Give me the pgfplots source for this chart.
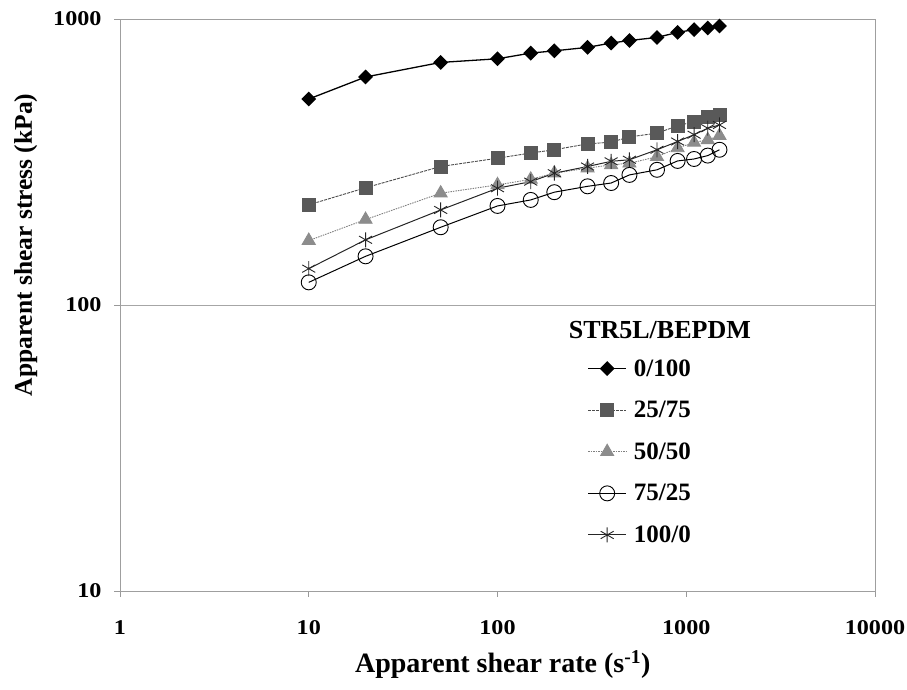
\documentclass[border=0pt]{standalone}
\usepackage{pgfplots}
\pgfplotsset{compat=1.18}
\usepackage{fontspec}
\setmainfont{Liberation Serif}
\newfontfamily\tickfont[FakeStretch=1.15]{Liberation Serif}
\begin{document}
\begin{tikzpicture}[x=1pt,y=1pt]
\path[use as bounding box] (0,0) rectangle (907,689);
\begin{axis}[
  at={(120pt,98pt)}, anchor=south west,
  scale only axis, width=755pt, height=572pt,
  xmode=log, ymode=log,
  xmin=1, xmax=10000, ymin=10, ymax=1000,
  xtick={1,10,100,1000,10000},
  xticklabels={1,10,100,1000,10000},
  ytick={10,100,1000},
  yticklabels={10,100,1000},
  xminorticks=false, yminorticks=false,
  xtick pos=bottom, ytick pos=left,
  tick align=outside, major tick length=6pt,
  tick style={gray!80, line width=0.6pt},
  axis line style={gray!75, line width=0.8pt},
  ymajorgrids, grid style={gray!70, line width=0.8pt},
  /pgf/number format/assume math mode=true,
  tick label style={font=\tickfont\fontsize{21}{24}\selectfont\bfseries},
  xticklabel style={yshift=-20pt},
  yticklabel style={xshift=-9pt},
  xlabel={Apparent shear rate (s\textsuperscript{-1})},
  ylabel={Apparent shear stress (kPa)},
  xlabel style={font=\fontsize{28}{32}\selectfont\bfseries, at={(axis description cs:0.507,-0.129)}, anchor=center},
  ylabel style={font=\fontsize{25.5}{30}\selectfont\bfseries, at={(axis description cs:-0.125,0.605)}, anchor=center},
  clip=false,
  legend style={draw=none, fill=none, at={(rel axis cs:0.615,0.412)}, anchor=north west,
    font=\fontsize{25}{28}\selectfont\bfseries, row sep=19.5pt,
    /tikz/every odd column/.append style={column sep=5pt}},
  legend cell align=left,
  legend image code/.code={\draw[mark repeat=2,mark phase=2,#1] plot coordinates {(0pt,0pt) (19pt,0pt) (38pt,0pt)};},
]
\addplot[black, line width=1.3pt, mark=square*, mark size=4.6pt, mark options={rotate=45, solid, fill=black}]
coordinates {(10,525) (20,627) (50,705) (100,726) (150,760) (200,774) (300,796) (400,824) (500,841) (700,862) (900,898) (1100,918) (1300,930) (1500,945)};
\addlegendentry{0/100}
\addplot[black!70, line width=0.9pt, dash pattern=on 3pt off 1pt, mark=square*, mark size=6.5pt, mark options={solid, fill=black!65, draw=black!65}]
coordinates {(10,224) (20,257) (50,305) (100,326) (150,340) (200,349) (300,366) (400,371) (500,387) (700,399) (900,423) (1100,438) (1300,456) (1500,462)};
\addlegendentry{25/75}
\addplot[black!50, line width=0.9pt, dash pattern=on 1.5pt off 1pt, mark=triangle*, mark size=7.5pt, mark options={solid, fill=black!45, draw=black!45}]
coordinates {(10,168) (20,199) (50,246) (100,263) (150,275) (200,289) (300,301) (400,309) (500,313) (700,330) (900,354) (1100,370) (1300,378) (1500,391)};
\addlegendentry{50/50}
\addplot[black, line width=1pt, mark=o, mark size=7.5pt, mark options={solid, line width=0.9pt}]
coordinates {(10,120) (20,148) (50,187) (100,222) (150,233) (200,248) (300,260) (400,267) (500,285) (700,297) (900,319) (1100,324) (1300,333) (1500,349)};
\addlegendentry{75/25}
\addplot[black!85, line width=1pt, mark=asterisk, mark size=7.5pt, mark options={solid, line width=0.9pt}]
coordinates {(10,134) (20,169) (50,215) (100,256) (150,270) (200,289) (300,305) (400,318) (500,322) (700,349) (900,373) (1100,394) (1300,415) (1500,426)};
\addlegendentry{100/0}
\node[font=\fontsize{26}{29}\selectfont\bfseries] at (rel axis cs:0.715,0.456) {STR5L/BEPDM};
\end{axis}
\end{tikzpicture}
\end{document}
